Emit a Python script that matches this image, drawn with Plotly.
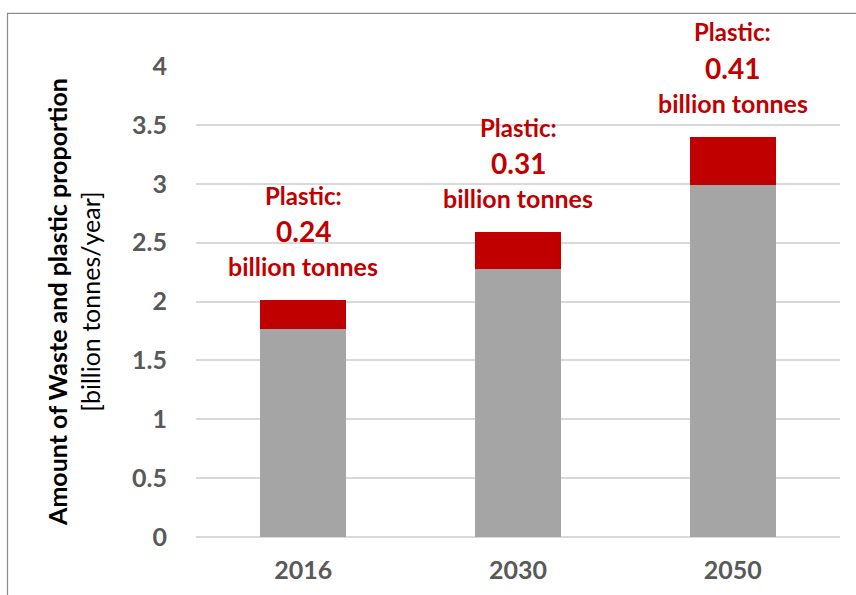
import plotly.graph_objects as go

years = ["2016", "2030", "2050"]
waste_other = [1.77, 2.28, 2.99]
plastic = [0.24, 0.31, 0.41]
plastic_labels = ["0.24", "0.31", "0.41"]
y_ticks = [0, 0.5, 1, 1.5, 2, 2.5, 3, 3.5, 4]
y_tick_text = ["0", "0.5", "1", "1.5", "2", "2.5", "3", "3.5", "4"]

FONT = "Lato"
RED = "#C00000"
GRAY = "#A5A5A5"
TICK = "#595959"

fig = go.Figure()
fig.add_trace(go.Bar(x=years, y=waste_other, marker=dict(color=GRAY, line=dict(width=0)), name="Waste"))
fig.add_trace(go.Bar(x=years, y=plastic, marker=dict(color=RED, line=dict(width=0)), name="Plastic"))

totals = [a + b for a, b in zip(waste_other, plastic)]
for i, (tot, lab) in enumerate(zip(totals, plastic_labels)):
    fig.add_annotation(x=i, y=tot, text="<b>billion tonnes</b>", showarrow=False,
                       yanchor="middle", yshift=34, font=dict(family=FONT, size=25, color=RED))
    fig.add_annotation(x=i, y=tot, text="<b>" + lab + "</b>", showarrow=False,
                       yanchor="middle", yshift=69, font=dict(family=FONT, size=28, color=RED))
    fig.add_annotation(x=i, y=tot, text="<b>Plastic:</b>", showarrow=False,
                       yanchor="middle", yshift=105, font=dict(family=FONT, size=24, color=RED))

# outer chart border
fig.add_shape(type="rect", xref="paper", yref="paper",
              x0=(7.5 - 196) / 644, x1=1.2, y0=-0.3, y1=(537 - 13.3) / 471,
              line=dict(color="#8c8c8c", width=1.2), fillcolor="rgba(0,0,0,0)", layer="above")

fig.update_layout(
    barmode="stack",
    bargap=0.6,
    width=856, height=595,
    margin=dict(l=196, r=16, t=66, b=58),
    paper_bgcolor="white", plot_bgcolor="white",
    showlegend=False,
    font=dict(family=FONT),
    xaxis=dict(type="category", range=[-0.5, 2.5], tickvals=years, ticktext=["<b>" + y + "</b>" for y in years],
               tickfont=dict(family=FONT, size=25, color=TICK), ticklabelstandoff=16, tickangle=0,
               showgrid=False, showline=False, automargin=False),
    yaxis=dict(range=[0, 4], tickvals=y_ticks, ticktext=["<b>" + t + "</b>" for t in y_tick_text],
               tickfont=dict(family=FONT, size=25, color=TICK),
               showgrid=True, gridcolor="#d9d9d9", gridwidth=1.5,
               zeroline=True, zerolinecolor="#d9d9d9", zerolinewidth=1.5,
               ticklabelstandoff=28, automargin=False,
               title=dict(text="<b>Amount of Waste and plastic proportion</b><br>[billion tonnes/year]",
                          font=dict(family=FONT, size=25, color="black"), standoff=24)),
)

fig.write_html("out.html")
